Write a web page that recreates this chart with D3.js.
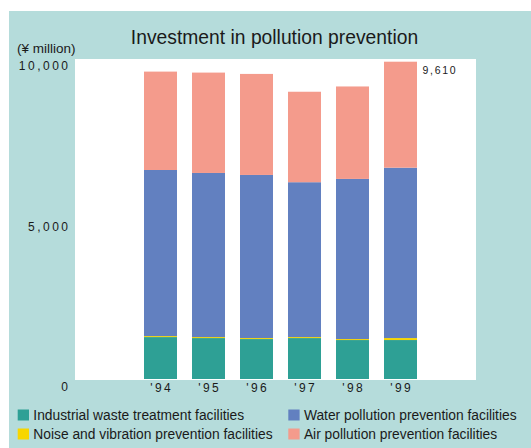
<!DOCTYPE html>
<html>
<head>
<meta charset="utf-8">
<script src="https://cdn.jsdelivr.net/npm/d3@7"></script>
<style>
  body { margin: 0; background: #ffffff; }
  svg { display: block; }
  text { font-family: "Liberation Sans", Arial, Helvetica, sans-serif; fill: #1a1a1a; }
</style>
</head>
<body>
<svg id="chart" width="531" height="448"></svg>
<script>
// ---- data (¥ million) ----
const years = ["'94", "'95", "'96", "'97", "'98", "'99"];
const industrial = [1270, 1240, 1210, 1240, 1180, 1180];
const noise      = [30, 30, 30, 30, 30, 60];
const water      = [5030, 4970, 4940, 4690, 4850, 5160];
const air        = [2980, 3040, 3060, 2740, 2800, 3210];
const seriesNames = ["Industrial waste treatment facilities", "Noise and vibration prevention facilities",
                     "Water pollution prevention facilities", "Air pollution prevention facilities"];
const seriesKeys = ["industrial", "noise", "water", "air"];
const yTicks = [0, 5000, 10000];
const totalLabel = "9,610";

const colors = { industrial: "#2ea095", noise: "#f7d600", water: "#6280c0", air: "#f49b8c" };

const svg = d3.select("#chart");

// panel background
svg.append("rect").attr("x", 9).attr("y", 11).attr("width", 522).attr("height", 437).attr("fill", "#b5dcdb");
// plot area
svg.append("rect").attr("x", 75).attr("y", 59).attr("width", 401).attr("height", 321).attr("fill", "#ffffff");

const table = years.map((yr, i) => ({ year: yr, industrial: industrial[i], noise: noise[i], water: water[i], air: air[i] }));
const stack = d3.stack().keys(seriesKeys)(table);

const x = d3.scaleBand().domain(years).range([136.5, 424.5]).paddingInner(0.3125).paddingOuter(0.15625);
const y = d3.scaleLinear().domain([0, 9610]).range([379, 61.7]);
// scale used for placing the tick labels as in the original figure
const yAxisScale = d3.scaleLinear().domain([0, 10000]).range([380, 59]);

svg.append("g").selectAll("g").data(stack).join("g")
  .attr("fill", d => colors[d.key])
  .selectAll("rect").data(d => d).join("rect")
  .attr("x", d => x(d.data.year))
  .attr("width", x.bandwidth())
  .attr("y", d => y(d[1]))
  .attr("height", d => y(d[0]) - y(d[1]));

// y axis labels
const yAxis = svg.append("g").attr("transform", "translate(70.5,6.5)")
  .call(d3.axisLeft(yAxisScale).tickValues(yTicks).tickSize(0).tickPadding(0).tickFormat(d3.format(",")));
yAxis.select(".domain").remove();
yAxis.selectAll("text").attr("dy", "0.35em").style("font-size", "12px").style("letter-spacing", "2.5px")
  .style("font-family", "'Liberation Sans', Arial, sans-serif").attr("fill", "#1a1a1a");

// x axis labels
const xAxis = svg.append("g").attr("transform", "translate(1.2,383)")
  .call(d3.axisBottom(x).tickSize(0).tickPadding(0));
xAxis.select(".domain").remove();
xAxis.selectAll("text").attr("dy", "0.71em").style("font-size", "12px").style("letter-spacing", "2.5px")
  .style("font-family", "'Liberation Sans', Arial, sans-serif").attr("fill", "#1a1a1a");

// total label
const last = table[table.length - 1];
svg.append("text").attr("x", x(last.year) + x.bandwidth() + 5.5)
  .attr("y", y(last.industrial + last.noise + last.water + last.air) + 9)
  .attr("dy", "0.35em").style("font-size", "10.5px").style("letter-spacing", "1.7px").text(totalLabel);

// title & unit
svg.append("text").attr("x", 274.5).attr("y", 43.5).attr("text-anchor", "middle")
  .style("font-size", "19.3px").text("Investment in pollution prevention");
svg.append("text").attr("x", 17).attr("y", 53).style("font-size", "13.5px").text("(¥ million)");

// legend
const legendPos = [[17.7, 415], [17.7, 434], [288.3, 415], [288.3, 434]];
const legendOrder = [0, 1, 2, 3];
const lg = svg.append("g");
legendOrder.forEach((k, i) => {
  const [lx, ly] = legendPos[i];
  lg.append("rect").attr("x", lx).attr("y", ly - 5.5).attr("width", 11.3).attr("height", 11).attr("fill", colors[seriesKeys[k]]);
  lg.append("text").attr("x", lx + 15.6).attr("y", ly).attr("dy", "0.35em").style("font-size", "13.8px").text(seriesNames[k]);
});
</script>
</body>
</html>
